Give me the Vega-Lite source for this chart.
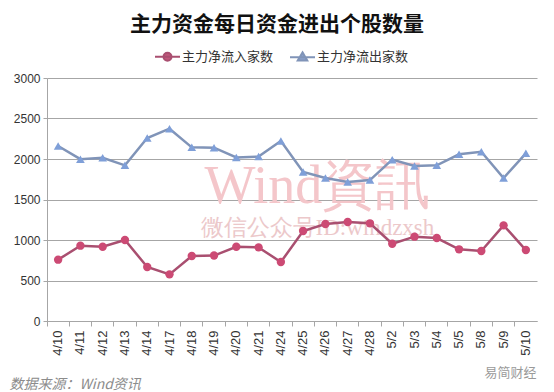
{
  "$schema": "https://vega.github.io/schema/vega-lite/v6.json",
  "width": 490,
  "height": 243,
  "autosize": {"type": "none"},
  "padding": {"left": 47, "top": 78, "right": 17, "bottom": 71},
  "background": "white",
  "title": {
    "text": "主力资金每日资金进出个股数量",
    "font": "Noto Sans CJK SC",
    "fontSize": 21,
    "fontWeight": "bold",
    "color": "#111111",
    "anchor": "middle",
    "dx": -15,
    "offset": 8
  },
  "datasets": {
    "series": [
      {"date": "4/10", "series": "主力净流入家数", "value": 757},
      {"date": "4/11", "series": "主力净流入家数", "value": 930},
      {"date": "4/12", "series": "主力净流入家数", "value": 917},
      {"date": "4/13", "series": "主力净流入家数", "value": 1000},
      {"date": "4/14", "series": "主力净流入家数", "value": 667},
      {"date": "4/17", "series": "主力净流入家数", "value": 576},
      {"date": "4/18", "series": "主力净流入家数", "value": 802},
      {"date": "4/19", "series": "主力净流入家数", "value": 808},
      {"date": "4/20", "series": "主力净流入家数", "value": 917},
      {"date": "4/21", "series": "主力净流入家数", "value": 909},
      {"date": "4/24", "series": "主力净流入家数", "value": 728},
      {"date": "4/25", "series": "主力净流入家数", "value": 1111},
      {"date": "4/26", "series": "主力净流入家数", "value": 1198},
      {"date": "4/27", "series": "主力净流入家数", "value": 1222},
      {"date": "4/28", "series": "主力净流入家数", "value": 1206},
      {"date": "5/2", "series": "主力净流入家数", "value": 954},
      {"date": "5/3", "series": "主力净流入家数", "value": 1041},
      {"date": "5/4", "series": "主力净流入家数", "value": 1024},
      {"date": "5/5", "series": "主力净流入家数", "value": 885},
      {"date": "5/8", "series": "主力净流入家数", "value": 864},
      {"date": "5/9", "series": "主力净流入家数", "value": 1181},
      {"date": "5/10", "series": "主力净流入家数", "value": 876},
      {"date": "4/10", "series": "主力净流出家数", "value": 2160},
      {"date": "4/11", "series": "主力净流出家数", "value": 1998},
      {"date": "4/12", "series": "主力净流出家数", "value": 2016},
      {"date": "4/13", "series": "主力净流出家数", "value": 1922},
      {"date": "4/14", "series": "主力净流出家数", "value": 2259},
      {"date": "4/17", "series": "主力净流出家数", "value": 2374},
      {"date": "4/18", "series": "主力净流出家数", "value": 2144},
      {"date": "4/19", "series": "主力净流出家数", "value": 2140},
      {"date": "4/20", "series": "主力净流出家数", "value": 2020},
      {"date": "4/21", "series": "主力净流出家数", "value": 2030},
      {"date": "4/24", "series": "主力净流出家数", "value": 2222},
      {"date": "4/25", "series": "主力净流出家数", "value": 1840},
      {"date": "4/26", "series": "主力净流出家数", "value": 1765},
      {"date": "4/27", "series": "主力净流出家数", "value": 1716},
      {"date": "4/28", "series": "主力净流出家数", "value": 1740},
      {"date": "5/2", "series": "主力净流出家数", "value": 1992},
      {"date": "5/3", "series": "主力净流出家数", "value": 1914},
      {"date": "5/4", "series": "主力净流出家数", "value": 1922},
      {"date": "5/5", "series": "主力净流出家数", "value": 2058},
      {"date": "5/8", "series": "主力净流出家数", "value": 2090},
      {"date": "5/9", "series": "主力净流出家数", "value": 1765},
      {"date": "5/10", "series": "主力净流出家数", "value": 2070}
    ],
    "watermark": [
      {"date": "4/26", "value": 1460, "label": "Wind資訊", "kind": "big"},
      {"date": "4/26", "value": 1060, "label": "微信公众号ID:windzxsh", "kind": "small"}
    ]
  },
  "encoding": {
    "x": {
      "field": "date",
      "type": "nominal",
      "sort": null,
      "scale": {"type": "band", "paddingInner": 0, "paddingOuter": 0, "domain": ["4/10","4/11","4/12","4/13","4/14","4/17","4/18","4/19","4/20","4/21","4/24","4/25","4/26","4/27","4/28","5/2","5/3","5/4","5/5","5/8","5/9","5/10"]},
      "axis": {
        "title": "数据来源：Wind资讯",
        "titleFont": "Noto Sans CJK SC",
        "titleFontSize": 14,
        "titleFontWeight": "normal",
        "titleFontStyle": "italic",
        "titleColor": "#8c8c8c",
        "titleAnchor": null,
        "titleAlign": "left",
        "titleBaseline": "middle",
        "titleX": -38,
        "titleY": 63,
        "labelAngle": -90,
        "labelAlign": "right",
        "labelBaseline": "middle",
        "labelFont": "Liberation Sans",
        "labelFontSize": 13,
        "labelColor": "#333333",
        "labelPadding": 4,
        "bandPosition": 0,
        "ticks": true,
        "tickSize": 5,
        "tickColor": "#a6a6a6",
        "domainColor": "#a6a6a6",
        "grid": false
      }
    },
    "y": {
      "field": "value",
      "type": "quantitative",
      "scale": {"domain": [0, 3000], "nice": false},
      "axis": {
        "values": [0, 500, 1000, 1500, 2000, 2500, 3000],
        "format": "d",
        "title": "易简财经",
        "titleAngle": 0,
        "titleFont": "Noto Sans CJK SC",
        "titleFontSize": 13,
        "titleFontWeight": "normal",
        "titleColor": "#9a9a9a",
        "titleAnchor": null,
        "titleAlign": "left",
        "titleBaseline": "middle",
        "titleX": 437,
        "titleY": 294,
        "labelFont": "Liberation Sans",
        "labelFontSize": 12,
        "labelColor": "#333333",
        "labelPadding": 3,
        "tickSize": 4,
        "tickColor": "#a6a6a6",
        "domainColor": "#a6a6a6",
        "grid": true,
        "gridColor": "#a6a6a6",
        "gridWidth": 1
      }
    }
  },
  "layer": [
    {
      "data": {"name": "watermark"},
      "transform": [{"filter": "datum.kind == 'big'"}],
      "mark": {"type": "text", "font": "Liberation Serif", "fontSize": 54, "color": "#f4c6ca", "dx": -8, "baseline": "alphabetic", "align": "center"},
      "encoding": {"text": {"field": "label"}}
    },
    {
      "data": {"name": "watermark"},
      "transform": [{"filter": "datum.kind == 'small'"}],
      "mark": {"type": "text", "font": "Liberation Serif", "fontSize": 23, "color": "#ecc8ca", "dx": -8, "baseline": "alphabetic", "align": "center"},
      "encoding": {"text": {"field": "label"}}
    },
    {
      "data": {"name": "series"},
      "mark": {"type": "line", "strokeWidth": 2.5},
      "encoding": {
        "stroke": {
          "field": "series",
          "type": "nominal",
          "scale": {"domain": ["主力净流入家数", "主力净流出家数"], "range": ["#a94f70", "#8094b8"]},
          "legend": {
            "title": null,
            "orient": "none",
            "legendX": 107,
            "legendY": -35,
            "direction": "horizontal",
            "symbolSize": 625,
            "symbolStrokeWidth": 2,
            "labelFont": "Noto Sans CJK SC",
            "labelFontSize": 13,
            "labelColor": "#333333",
            "labelOffset": 1,
            "columnPadding": 12,
            "encode": {
              "symbols": {
                "update": {
                  "shape": {"signal": "datum.value == '主力净流入家数' ? 'M-1,0H1M0.32,0A0.32,0.32,0,1,1,-0.32,0A0.32,0.32,0,1,1,0.32,0Z' : 'M-1,0H1M0,-0.38L0.38,0.26L-0.38,0.26Z'"},
                  "stroke": {"signal": "datum.value == '主力净流入家数' ? '#c0577a' : '#8aa0cc'"},
                  "fill": {"signal": "datum.value == '主力净流入家数' ? '#c0577a' : '#8aa0cc'"},
                  "strokeWidth": {"value": 2},
                  "opacity": {"value": 1}
                }
              }
            }
          }
        }
      }
    },
    {
      "data": {"name": "series"},
      "transform": [{"filter": "datum.series == '主力净流入家数'"}],
      "mark": {"type": "point", "filled": true, "opacity": 1, "strokeWidth": 0, "shape": "circle", "color": "#cc4a74", "size": 70}
    },
    {
      "data": {"name": "series"},
      "transform": [{"filter": "datum.series == '主力净流出家数'"}],
      "mark": {"type": "point", "filled": true, "opacity": 1, "strokeWidth": 0, "shape": "triangle-up", "color": "#7f9fd8", "size": 75}
    }
  ],
  "config": {
    "view": {"stroke": null},
    "font": "Noto Sans CJK SC"
  }
}
